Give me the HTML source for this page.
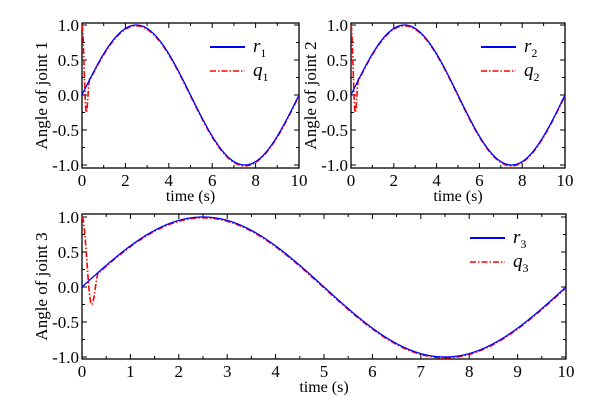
<!DOCTYPE html>
<html><head><meta charset="utf-8"><style>
body{margin:0;background:#fff;}
svg text{font-family:"Liberation Serif",serif;fill:#000;}
</style></head><body>
<svg id="s" width="606" height="409" xmlns="http://www.w3.org/2000/svg"></svg>
<script>
const S=document.getElementById('s');let h='';
function plot(x0,x1,yT,yB,y1,ym1,lab,xStep,legX,legY,sub){
  const X=t=>x0+(x1-x0)*t/10, Y=v=>y1+(ym1-y1)*(1-v)/2;
  h+=`<rect x="${x0}" y="${yT}" width="${x1-x0}" height="${yB-yT}" fill="none" stroke="#000" stroke-width="1.3"/>`;
  for(let t=0;t<=10.001;t+=xStep/2){const maj=Math.abs(t/xStep-Math.round(t/xStep))<1e-6;const L=maj?5:3;
    h+=`<line x1="${X(t)}" x2="${X(t)}" y1="${yB}" y2="${yB-L}" stroke="#000"/><line x1="${X(t)}" x2="${X(t)}" y1="${yT}" y2="${yT+L}" stroke="#000"/>`;
    if(maj)h+=`<text x="${X(t)}" y="${yB+18}" font-size="17" text-anchor="middle">${Math.round(t)}</text>`;}
  for(let v=-1;v<=1.001;v+=0.25){const maj=Math.abs(v*2-Math.round(v*2))<1e-6;const L=maj?5:3;
    h+=`<line x1="${x0}" x2="${x0+L}" y1="${Y(v)}" y2="${Y(v)}" stroke="#000"/><line x1="${x1}" x2="${x1-L}" y1="${Y(v)}" y2="${Y(v)}" stroke="#000"/>`;
    if(maj)h+=`<text x="${x0-3}" y="${Y(v)+6}" font-size="17" text-anchor="end">${v.toFixed(1)}</text>`;}
  h+=`<text x="${(x0+x1)/2}" y="${yB+33}" font-size="16" text-anchor="middle">time (s)</text>`;
  const yc=(yT+yB)/2;h+=`<text transform="translate(${x0-35},${yc}) rotate(-90)" font-size="17" text-anchor="middle">${lab}</text>`;
  const r=t=>Math.sin(2*Math.PI*t/10);
  const q=t=>{if(t<0.2)return 1-1.25*(1-Math.cos(Math.PI*t/0.2))/2;if(t<0.35){const a=-0.25,b=r(0.35);return a+(b-a)*(1-Math.cos(Math.PI*(t-0.2)/0.15))/2;}return r(t)-0.012;};
  let pr='',pq='';for(let i=0;i<=1000;i++){const t=i/100;pr+=(i?'L':'M')+X(t).toFixed(2)+','+Y(r(t)).toFixed(2);pq+=(i?'L':'M')+X(t).toFixed(2)+','+Y(q(t)).toFixed(2);}
  h+=`<path d="${pq}" fill="none" stroke="#f00" stroke-width="1.6" stroke-dasharray="6,2,1.5,2"/>`;
  h+=`<path d="${pr}" fill="none" stroke="#00f" stroke-width="1.3"/>`;
  h+=`<line x1="${legX}" x2="${legX+35}" y1="${legY}" y2="${legY}" stroke="#00f" stroke-width="2"/><line x1="${legX}" x2="${legX+35}" y1="${legY+24}" y2="${legY+24}" stroke="#f00" stroke-width="1.5" stroke-dasharray="6,2,1.5,2"/>`;
  h+=`<text x="${legX+43}" y="${legY+5}" font-size="19" font-style="italic">r<tspan font-size="12" font-style="normal" dy="5">${sub}</tspan></text>`;
  h+=`<text x="${legX+43}" y="${legY+29}" font-size="19" font-style="italic">q<tspan font-size="12" font-style="normal" dy="5">${sub}</tspan></text>`;
}
plot(82,299,23,168,25,165,'Angle of joint 1',2,210,47,1);
plot(351,565,23,168,25,165,'Angle of joint 2',2,481,47,2);
plot(82,566,214,359,217,357,'Angle of joint 3',1,470,238,3);
S.innerHTML=h;
</script>
</body></html>
